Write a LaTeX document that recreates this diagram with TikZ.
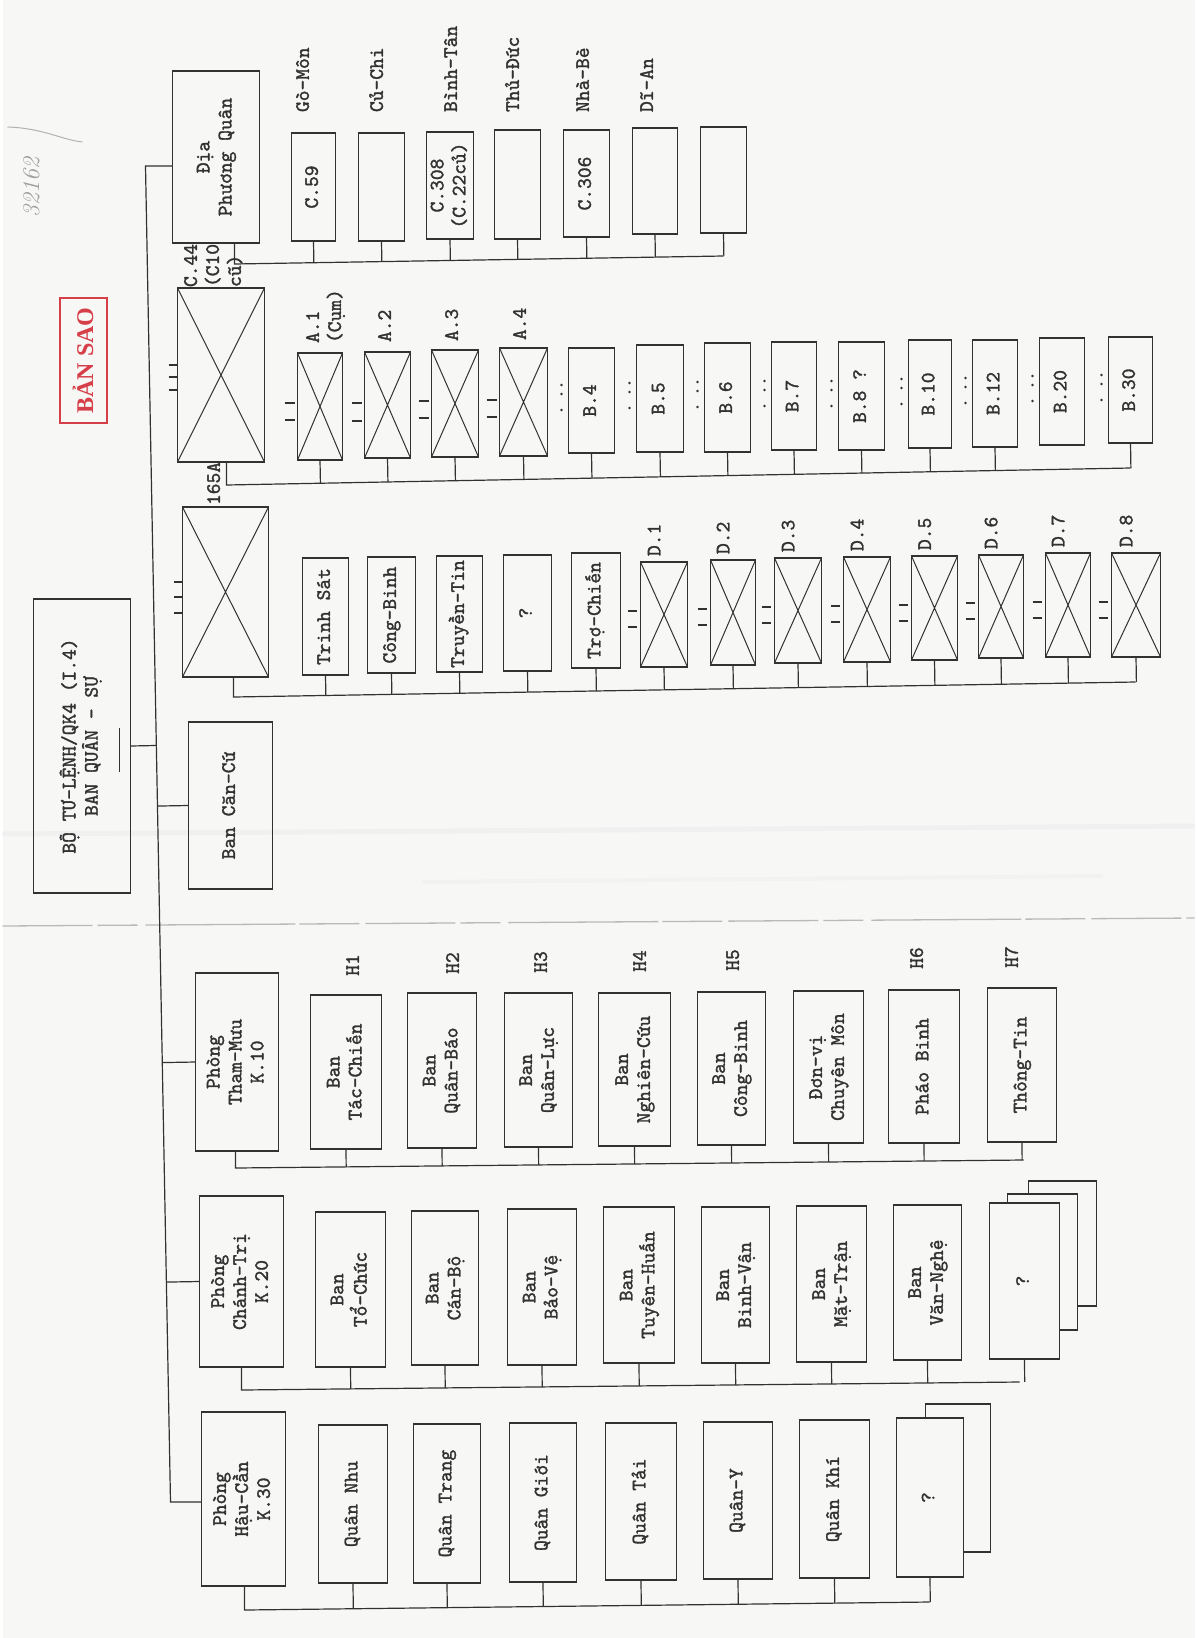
\documentclass[tikz,border=0pt]{standalone}
\usepackage{fontspec}
\newfontfamily\stampfont{Liberation Serif}
\newfontfamily\tw{lmmono10-regular.otf}[FakeBold=1.5]
\usetikzlibrary{calc}
\definecolor{ink}{RGB}{50,50,50}
\definecolor{paper}{RGB}{247,247,246}
\definecolor{stampred}{RGB}{214,62,72}
\newcommand\mono{\tw\fontsize{20.5}{22}\selectfont}
\newcommand\rt[1]{\rotatebox{90}{\begin{tabular}{@{}c@{}}#1\end{tabular}}}
\newcommand\rtl[1]{\rotatebox{90}{\begin{tabular}{@{}l@{}}#1\end{tabular}}}
\newcommand\bx[7][ubox]{\pgfmathsetmacro\bxw{#5-(#3)}\pgfmathsetmacro\bxh{#6-(#4)}\node[#1,minimum width=\bxw pt,minimum height=\bxh pt] (#2) at ({(#3+#5)/2},{(#4+#6)/2}) {\rt{#7}};}
\begin{document}
\begin{tikzpicture}[x=1pt,y=-1pt,line width=1.2pt,
  ubox/.style={draw=ink,inner sep=0pt,outer sep=0pt,text=ink,font=\mono},
  sbox/.style={ubox,fill=paper},
  xbox/.style={ubox,path picture={\draw[ink,line width=1pt] (path picture bounding box.north west) -- (path picture bounding box.south east) (path picture bounding box.north east) -- (path picture bounding box.south west);}},
  lbl/.style={inner sep=0pt,outer sep=0pt,text=ink,font=\mono},
  wire/.style={draw=ink,line width=1.2pt},
  rankline/.style={draw=ink,line width=1.1pt}]
% paper and scan marks
\fill[paper] (0,0) rectangle (1192,1638);
\draw[gray!12,line width=5pt] (0,834) -- (1192,826);
\draw[gray!10,line width=4pt] (420,882) -- (1100,876);
\draw[gray!55,line width=1.3pt,dash pattern=on 90pt off 5pt on 40pt off 8pt on 150pt off 4pt on 60pt off 6pt] (0,926) -- (1192,918);
\node[text=gray!75,font=\itshape\fontsize{24}{24}\selectfont,inner sep=0pt] (hw) at (29,187) {\rotatebox{90}{32162}};
\draw[gray!60,line width=1pt] (5,127) .. controls (40,128) and (60,140) .. (80,142);
% stamp
\node[draw=stampred,line width=2pt,inner sep=0pt,minimum width=47pt,minimum height=125pt,text=stampred] (stamp) at (80.5,360.5) {\rotatebox{90}{\stampfont\bfseries\fontsize{24}{24}\selectfont BẢN SAO}};
% root and first level
\bx{root}{31}{599}{128}{893}{BỘ TƯ-LỆNH/QK4 (I.4)\\BAN QUÂN - SỰ}
\draw[rankline] (117,728) -- (117,772);
\bx{cc}{186}{722}{270}{889}{Ban Căn-Cứ}
% Dia Phuong Quan group
\bx{dia}{170}{71}{257}{243}{Địa\\Phương Quân}
\bx{c59}{289}{133}{333}{241}{C.59}
\bx{cuchi}{356}{133}{402}{241}{}
\bx{c308}{424}{132}{471}{239}{C.308\\(C.22củ)}
\bx{thuduc}{492}{130}{538}{239}{}
\bx{c306}{561}{130}{607}{237}{C.306}
\bx{dian}{630}{128}{675}{234}{}
\bx{dlast}{698}{127}{744}{233}{}
\node[lbl,anchor=south] (lgo) at (302,112) {\rt{Gò-Môn}};
\node[lbl,anchor=south] (lcu) at (376,112) {\rt{Củ-Chi}};
\node[lbl,anchor=south] (lbt) at (450,112) {\rt{Bình-Tân}};
\node[lbl,anchor=south] (ltd) at (512,112) {\rt{Thủ-Đức}};
\node[lbl,anchor=south] (lnb) at (582,112) {\rt{Nhà-Bè}};
\node[lbl,anchor=south] (lda) at (646,112) {\rt{Dĩ-An}};
\coordinate (bDL) at (232,264); \coordinate (bDR) at (721,256);
\draw[wire] (dia.south -| bDL) -- (bDL) -- (bDR);
\foreach \n in {c59,cuchi,c308,thuduc,c306,dian,dlast} \draw[wire] (\n.south) -- ($(bDL)!(\n.south)!(bDR)$);
% C.44 group
\bx[xbox]{c44}{175}{288}{262}{462}{}
\node[lbl,anchor=south] (lc44) at (212,287) {\rtl{C.44\\(C10\\cũ)}};
\foreach \yy in {365,377,390} \draw[rankline] (166,\yy) -- (174,\yy);
\bx[xbox]{a1}{295}{353}{340}{460}{}
\bx[xbox]{a2}{362}{352}{408}{458}{}
\bx[xbox]{a3}{429}{350}{476}{457}{}
\bx[xbox]{a4}{497}{348}{545}{456}{}
\node[lbl,anchor=south] (la1) at (323,343) {\rtl{A.1\\(Cụm)}};
\node[lbl,anchor=south] (la2) at (384,342) {\rt{A.2}};
\node[lbl,anchor=south] (la3) at (451,341) {\rt{A.3}};
\node[lbl,anchor=south] (la4) at (519,340) {\rt{A.4}};
\foreach \xx/\ya/\yb in {295/403/420,362/403/421,429/401/418,497/400/417} {\draw[rankline] (\xx-13,\ya) -- (\xx-3,\ya); \draw[rankline] (\xx-13,\yb) -- (\xx-3,\yb);}
\bx{b4}{566}{348}{612}{453}{B.4}
\bx{b5}{634}{345}{681}{452}{B.5}
\bx{b6}{702}{343}{748}{452}{B.6}
\bx{b7}{769}{342}{814}{450}{B.7}
\bx{b8}{836}{342}{882}{450}{B.8 ?}
\bx{b10}{906}{340}{949}{448}{B.10}
\bx{b12}{970}{340}{1015}{447}{B.12}
\bx{b20}{1037}{338}{1082}{445}{B.20}
\bx{b30}{1106}{337}{1150}{443}{B.30}
\foreach \xx/\cy in {566/400,634/398,702/397,769/396,836/396,906/394,970/393,1037/391,1106/390} {\fill[ink] (\xx-7,\cy-15) circle (1.4pt) (\xx-7,\cy-6) circle (1.4pt) (\xx-7,\cy+10) circle (1.4pt);}
\coordinate (bCL) at (224,485); \coordinate (bCR) at (1128,468);
\draw[wire] (c44.south -| bCL) -- (bCL) -- (bCR);
\foreach \n in {a1,a2,a3,a4,b4,b5,b6,b7,b8,b10,b12,b30} \draw[wire] (\n.south) -- ($(bCL)!(\n.south)!(bCR)$);
% 165A group
\bx[xbox]{k165}{180}{507}{266}{677}{}
\node[lbl,anchor=south] (l165) at (213,505) {\rt{165A}};
\foreach \yy in {582,597,613} \draw[rankline] (171,\yy) -- (179,\yy);
\bx{ts}{300}{558}{346}{675}{Trinh Sát}
\bx{cbi}{365}{557}{413}{673}{Công-Binh}
\bx{tt}{434}{556}{480}{672}{Truyền-Tin}
\bx{qq}{501}{555}{549}{671}{?}
\bx{tc}{569}{553}{618}{668}{Trợ-Chiến}
\bx[xbox]{d1}{638}{562}{685}{667}{}
\bx[xbox]{d2}{708}{560}{753}{665}{}
\bx[xbox]{d3}{772}{558}{819}{663}{}
\bx[xbox]{d4}{841}{557}{888}{662}{}
\bx[xbox]{d5}{909}{556}{955}{660}{}
\bx[xbox]{d6}{976}{555}{1021}{658}{}
\bx[xbox]{d7}{1043}{553}{1088}{657}{}
\bx[xbox]{d8}{1109}{553}{1158}{657}{}
\foreach \n/\t in {d1/D.1,d2/D.2,d3/D.3,d4/D.4,d5/D.5,d6/D.6,d7/D.7,d8/D.8} \node[lbl,anchor=south] (l\n) at ($(\n.north)+(-8,-6)$) {\rt{\t}};
\foreach \xx/\cy in {638/614,708/612,772/610,841/609,909/608,976/606,1043/605,1109/605} {\draw[rankline] (\xx-13,\cy-3) -- (\xx-4,\cy-3); \draw[rankline] (\xx-13,\cy+13) -- (\xx-4,\cy+13);}
\coordinate (bKL) at (231,697); \coordinate (bKR) at (1133,682);
\draw[wire] (k165.south -| bKL) -- (bKL) -- (bKR);
\foreach \n in {ts,cbi,tt,qq,tc,d1,d2,d3,d4,d5,d6,d7,d8} \draw[wire] (\n.south) -- ($(bKL)!(\n.south)!(bKR)$);
% Tham-Muu group
\bx{tm}{193}{973}{276}{1151}{Phòng\\Tham-Mưu\\K.10}
\bx{h1}{308}{995}{379}{1149}{Ban\\Tác-Chiến}
\bx{h2}{405}{993}{474}{1148}{Ban\\Quân-Báo}
\bx{h3}{502}{993}{570}{1147}{Ban\\Quân-Lực}
\bx{h4}{596}{993}{668}{1146}{Ban\\Nghiên-Cứu}
\bx{h5}{695}{992}{763}{1145}{Ban\\Công-Binh}
\bx{h5b}{791}{991}{861}{1143}{Đơn-vị\\Chuyên Môn}
\bx{h6}{886}{990}{957}{1143}{Pháo Binh}
\bx{h7}{985}{988}{1054}{1142}{Thông-Tin}
\node[lbl] (lh1) at (352,965) {\rt{H1}};
\node[lbl] (lh2) at (452,963) {\rt{H2}};
\node[lbl] (lh3) at (540,962) {\rt{H3}};
\node[lbl] (lh4) at (639,961) {\rt{H4}};
\node[lbl] (lh5) at (732,960) {\rt{H5}};
\node[lbl] (lh6) at (916,958) {\rt{H6}};
\node[lbl] (lh7) at (1011,957) {\rt{H7}};
\coordinate (bTL) at (233,1168); \coordinate (bTR) at (1021,1160);
\draw[wire] (tm.south -| bTL) -- (bTL) -- (bTR);
\foreach \n in {h1,h2,h3,h4,h5,h5b,h6,h7} \draw[wire] (\n.south) -- ($(bTL)!(\n.south)!(bTR)$);
% Chanh-Tri group
\bx{ct}{197}{1196}{281}{1367}{Phòng\\Chánh-Trị\\K.20}
\bx{p1}{313}{1212}{383}{1367}{Ban\\Tổ-Chức}
\bx{p2}{409}{1211}{476}{1365}{Ban\\Cán-Bộ}
\bx{p3}{505}{1209}{574}{1365}{Ban\\Bảo-Vệ}
\bx{p4}{601}{1207}{672}{1363}{Ban\\Tuyên-Huấn}
\bx{p5}{699}{1207}{767}{1363}{Ban\\Binh-Vận}
\bx{p6}{794}{1206}{864}{1362}{Ban\\Mặt-Trận}
\bx{p7}{891}{1205}{959}{1360}{Ban\\Văn-Nghệ}
\bx[sbox]{p8c}{1026}{1181}{1094}{1306}{}
\bx[sbox]{p8b}{1005}{1194}{1075}{1330}{}
\bx[sbox]{p8}{987}{1203}{1057}{1359}{?}
\coordinate (bPL) at (239,1390); \coordinate (bPR) at (1017,1382);
\draw[wire] (ct.south -| bPL) -- (bPL) -- (bPR);
\foreach \n in {p1,p2,p3,p4,p5,p6,p7,p8} \draw[wire] (\n.south) -- ($(bPL)!(\n.south)!(bPR)$);
% Hau-Can group
\bx{hc}{199}{1412}{283}{1586}{Phòng\\Hậu-Cần\\K.30}
\bx{q1}{316}{1425}{385}{1583}{Quân Nhu}
\bx{q2}{411}{1424}{478}{1583}{Quân Trang}
\bx{q3}{507}{1423}{574}{1582}{Quân Giới}
\bx{q4}{603}{1423}{674}{1580}{Quân Tải}
\bx{q5}{701}{1422}{770}{1579}{Quân-Y}
\bx{q6}{797}{1420}{867}{1578}{Quân Khí}
\bx[sbox]{q7b}{923}{1404}{988}{1552}{}
\bx[sbox]{q7}{894}{1418}{961}{1577}{?}
\coordinate (bHL) at (242,1610); \coordinate (bHR) at (927,1602);
\draw[wire] (hc.south -| bHL) -- (bHL) -- (bHR);
\foreach \n in {q1,q2,q3,q4,q5,q6,q7} \draw[wire] (\n.south) -- ($(bHL)!(\n.south)!(bHR)$);
% spine
\coordinate (spT) at (143,166); \coordinate (spB) at (168,1502);
\draw[wire] (dia.west |- spT) -- (spT) -- (spB) -- (hc.west |- spB);
\foreach \n/\a in {root/east,cc/west,tm/west,ct/west} \draw[wire] (\n.\a) -- ($(spT)!(\n.\a)!(spB)$);
\useasboundingbox (0,0) rectangle (1192,1638);
\end{tikzpicture}
\end{document}
